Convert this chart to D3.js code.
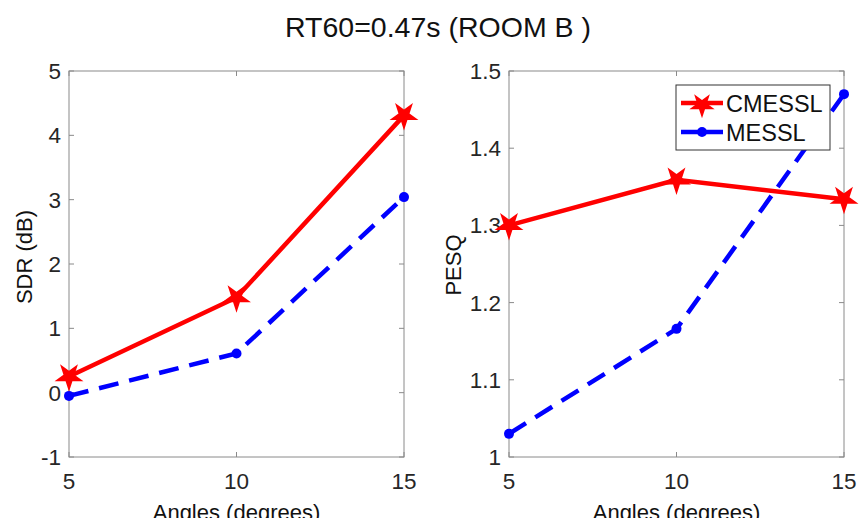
<!DOCTYPE html>
<html>
<head>
<meta charset="utf-8">
<script src="https://cdn.jsdelivr.net/npm/d3@7"></script>
<style>
  html, body { margin: 0; padding: 0; background: #fff; }
  svg { display: block; font-family: "Liberation Sans", Arial, sans-serif; }
</style>
</head>
<body>
<svg id="chart" width="860" height="518"></svg>
<script>
// Angles tested and results for each method
const angles = [5, 10, 15];
const sdrCMESSL = [0.25, 1.48, 4.31];
const sdrMESSL = [-0.05, 0.61, 3.04];
const pesqCMESSL = [1.30, 1.359, 1.334];
const pesqMESSL = [1.030, 1.166, 1.470];
const xTicks = [5, 10, 15];
const sdrTicks = [-1, 0, 1, 2, 3, 4, 5];
const pesqTicks = [1, 1.1, 1.2, 1.3, 1.4, 1.5];
const seriesNames = ["CMESSL", "MESSL"];

const svg = d3.select("#chart");
const axisColor = "#8a8a8a";
const textColor = "#262626";

svg.append("text")
  .attr("x", 438).attr("y", 37)
  .attr("text-anchor", "middle")
  .attr("font-size", 28.5)
  .attr("fill", "#111")
  .text("RT60=0.47s (ROOM B )");

const star = d3.symbol().type(d3.symbolStar).size(260);
const legendStar = d3.symbol().type(d3.symbolStar).size(200);

function panel(opts) {
  const { left, right, top, bottom, yDomain, yTicks, yFmt, red, blue, ylabel, legend } = opts;
  const x = d3.scaleLinear().domain([5, 15]).range([left, right]);
  const y = d3.scaleLinear().domain(yDomain).range([bottom, top]);
  const g = svg.append("g");

  // box
  g.append("rect")
    .attr("x", left).attr("y", top)
    .attr("width", right - left).attr("height", bottom - top)
    .attr("fill", "none").attr("stroke", axisColor).attr("stroke-width", 1);

  // inward ticks on all four sides
  const tl = 5;
  xTicks.forEach(t => {
    g.append("line").attr("x1", x(t)).attr("x2", x(t)).attr("y1", bottom).attr("y2", bottom - tl).attr("stroke", axisColor);
    g.append("line").attr("x1", x(t)).attr("x2", x(t)).attr("y1", top).attr("y2", top + tl).attr("stroke", axisColor);
    g.append("text").attr("x", x(t)).attr("y", bottom + 32)
      .attr("text-anchor", "middle").attr("font-size", 22.5).attr("fill", textColor).text(t);
  });
  yTicks.forEach(t => {
    g.append("line").attr("x1", left).attr("x2", left + tl).attr("y1", y(t)).attr("y2", y(t)).attr("stroke", axisColor);
    g.append("line").attr("x1", right).attr("x2", right - tl).attr("y1", y(t)).attr("y2", y(t)).attr("stroke", axisColor);
    g.append("text").attr("x", left - 8).attr("y", y(t) + 8)
      .attr("text-anchor", "end").attr("font-size", 22.5).attr("fill", textColor).text(yFmt(t));
  });

  // axis labels
  g.append("text")
    .attr("transform", `translate(${opts.ylabelX},${opts.ylabelY}) rotate(-90)`)
    .attr("text-anchor", "middle").attr("font-size", 22).attr("fill", "#111").text(ylabel);
  g.append("text")
    .attr("x", (left + right) / 2).attr("y", bottom + 63)
    .attr("text-anchor", "middle").attr("font-size", 22).attr("fill", "#111").text("Angles (degrees)");

  const line = d3.line().x((d, i) => x(angles[i])).y(d => y(d));

  // MESSL: dashed blue with dots
  g.append("path").datum(blue).attr("d", line)
    .attr("fill", "none").attr("stroke", "#0000ff").attr("stroke-width", 4.5)
    .attr("stroke-dasharray", "20,11");
  g.selectAll(".dot").data(blue).enter().append("circle")
    .attr("cx", (d, i) => x(angles[i])).attr("cy", d => y(d)).attr("r", 5)
    .attr("fill", "#0000ff");

  // CMESSL: solid red with stars
  g.append("path").datum(red).attr("d", line)
    .attr("fill", "none").attr("stroke", "#ff0000").attr("stroke-width", 4.5);
  g.selectAll(".star").data(red).enter().append("path")
    .attr("d", star)
    .attr("transform", (d, i) => `translate(${x(angles[i])},${y(d)}) rotate(180)`)
    .attr("fill", "#ff0000");

  if (legend) {
    const lx = 676, ly = 85, lw = 154, lh = 65;
    const lg = g.append("g");
    lg.append("rect").attr("x", lx).attr("y", ly).attr("width", lw).attr("height", lh)
      .attr("fill", "#fff").attr("stroke", "#333").attr("stroke-width", 1);
    const rows = [ly + 18, ly + 47];
    // CMESSL entry
    lg.append("line").attr("x1", lx + 5).attr("x2", lx + 47).attr("y1", rows[0]).attr("y2", rows[0])
      .attr("stroke", "#ff0000").attr("stroke-width", 4.5);
    lg.append("path").attr("d", legendStar).attr("transform", `translate(${lx + 26},${rows[0] + 2}) rotate(180)`).attr("fill", "#ff0000");
    // MESSL entry
    lg.append("line").attr("x1", lx + 5).attr("x2", lx + 47).attr("y1", rows[1]).attr("y2", rows[1])
      .attr("stroke", "#0000ff").attr("stroke-width", 4.5).attr("stroke-dasharray", "17,8");
    lg.append("circle").attr("cx", lx + 26).attr("cy", rows[1]).attr("r", 5).attr("fill", "#0000ff");
    seriesNames.forEach((n, i) => {
      lg.append("text").attr("x", lx + 50).attr("y", rows[i] + 8.5)
        .attr("font-size", 23.5).attr("fill", "#111").text(n);
    });
  }
}

panel({
  left: 69, right: 404, top: 71, bottom: 457,
  yDomain: [-1, 5], yTicks: sdrTicks, yFmt: t => String(t),
  red: sdrCMESSL, blue: sdrMESSL, ylabel: "SDR (dB)", ylabelX: 32, ylabelY: 257, legend: false
});

panel({
  left: 509, right: 844, top: 71, bottom: 457,
  yDomain: [1, 1.5], yTicks: pesqTicks, yFmt: t => (t === 1 ? "1" : d3.format(".1f")(t)),
  red: pesqCMESSL, blue: pesqMESSL, ylabel: "PESQ", ylabelX: 461, ylabelY: 265, legend: true
});
</script>
</body>
</html>
